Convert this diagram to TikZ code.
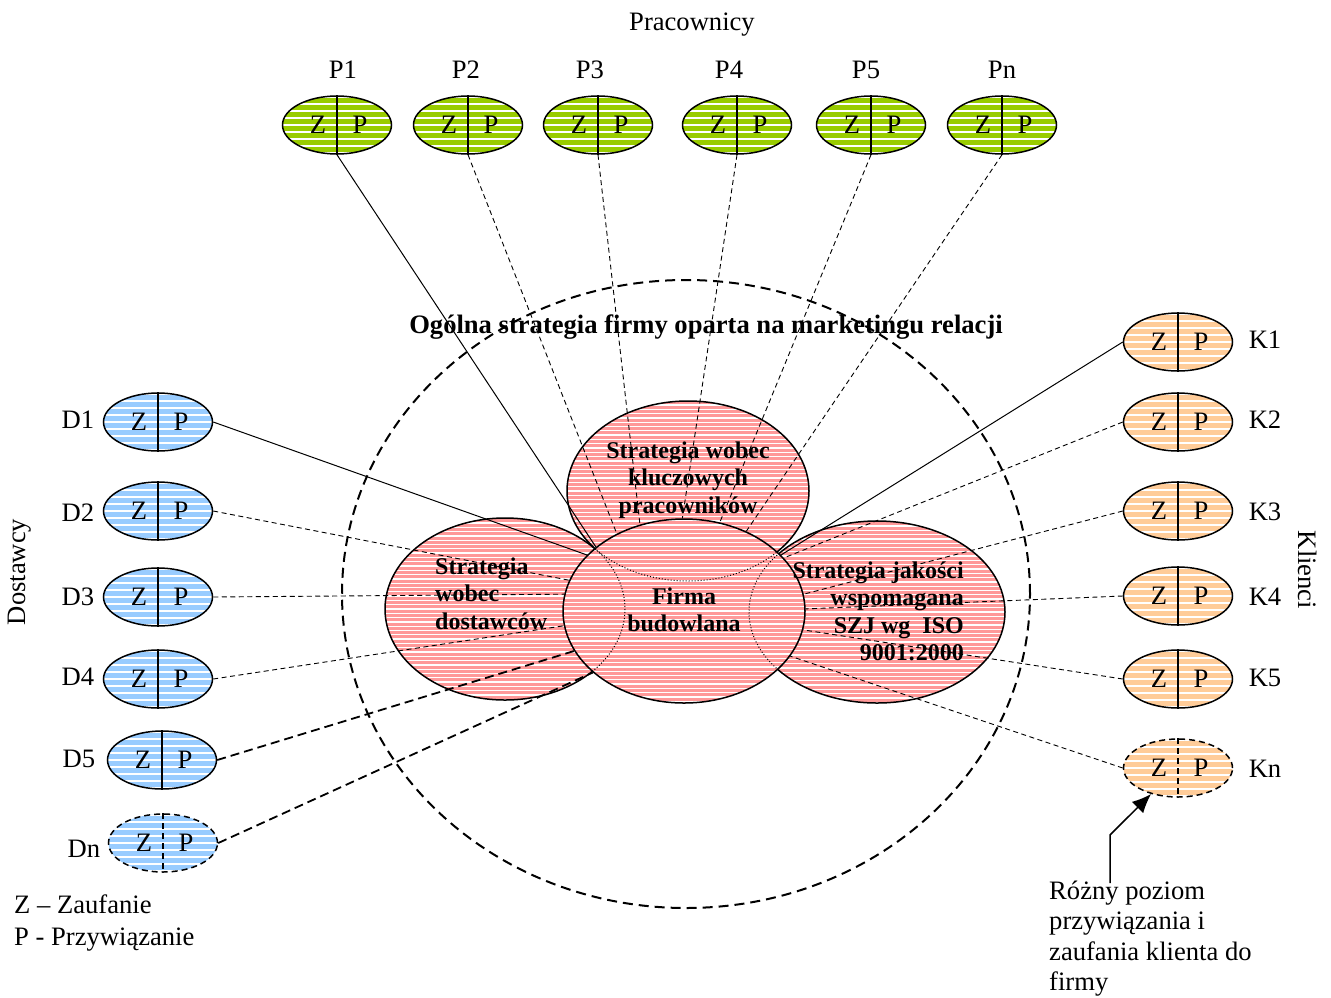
\documentclass[tikz,border=0pt]{standalone}
\usepackage{fontspec}
\setmainfont{Liberation Serif}
\usetikzlibrary{shapes.geometric,arrows.meta}

\definecolor{pgreen}{HTML}{99CC00}
\definecolor{dblue}{HTML}{99CCFF}
\definecolor{korange}{HTML}{FFCC99}
\definecolor{fpink}{HTML}{FF9999}

\tikzset{
  zpell/.style={ellipse, draw, line width=1.5pt, inner sep=0pt, minimum width=109pt, minimum height=58pt},
  bigell/.style={ellipse, draw, line width=1.5pt, inner sep=0pt},
  stripe/.style={fill=white},
  lbl/.style={inner sep=0pt},
  ctxt/.style={inner sep=0pt, font=\bfseries\fontsize{24}{27.5}\selectfont},
  conn/.style={line width=1pt},
  dconn/.style={line width=0.9pt, dash pattern=on 5pt off 3.5pt},
  tconn/.style={line width=1.8pt, dash pattern=on 9pt off 5pt},
  dzp/.style={dash pattern=on 6pt off 4pt}
}

% small striped Z|P ellipse
\newcommand{\zpunit}[5]{%
  \fill[#4] (#2,#3) ellipse (54.5 and 29);
  \begin{scope}
    \clip (#2,#3) ellipse (54.5 and 29);
    \foreach \k in {-4,...,4} {\fill[stripe] (#2-60,{#3+\k*7-0.85}) rectangle ++(120,1.7);}
  \end{scope}
  \node[zpell, #5] (#1) at (#2,#3) {};
  \draw[line width=1.5pt, #5] (#1.north) -- (#1.south);
  \node[lbl] (#1z) at ([xshift=-19pt]#1.center) {Z};
  \node[lbl] (#1p) at ([xshift=23pt]#1.center) {P};
}

% big striped pink ellipse
\newcommand{\bigunit}[5]{%
  \fill[fpink] (#2,#3) ellipse (#4 and #5);
  \begin{scope}
    \clip (#2,#3) ellipse (#4 and #5);
    \foreach \k in {-22,...,22} {\fill[stripe] (#2-140,{#3+\k*4.3-0.65}) rectangle ++(280,1.3);}
  \end{scope}
  \node[bigell, minimum width=2*#4, minimum height=2*#5] (#1) at (#2,#3) {};
}

\begin{document}
\begin{tikzpicture}[x=1pt, y=-1pt, font=\fontsize{26.6}{31}\selectfont]
\useasboundingbox (0,0) rectangle (1331,997);

% outer dashed boundary
\node[ellipse, draw, line width=2pt, dash pattern=on 10pt off 6pt, minimum width=688pt, minimum height=628pt, inner sep=0pt] (outer) at (686,594) {};

% strategy ellipses
\bigunit{sdost}{505}{609}{120}{91}
\bigunit{sjak}{877}{612}{128}{91}
\bigunit{sprac}{688}{491}{121}{90}
\bigunit{firma}{684}{611}{121}{92}
\begin{scope}
  \clip (firma.center) ellipse (121 and 92);
  \draw[dotted, line width=1pt] (sdost.center) ellipse (120 and 91);
  \draw[dotted, line width=1pt] (sjak.center) ellipse (128 and 91);
  \draw[dotted, line width=1pt] (sprac.center) ellipse (121 and 90);
\end{scope}

% texts in ellipses
\node[ctxt, anchor=base] (tprac) at (688,458) {\begin{tabular}[t]{@{}c@{}}Strategia wobec\\kluczowych\\pracowników\end{tabular}};
\node[ctxt, anchor=base west] (tdost) at (435,574) {\begin{tabular}[t]{@{}l@{}}Strategia\\wobec\\dostawców\end{tabular}};
\node[ctxt, anchor=base] (tfirma) at (684,604) {\begin{tabular}[t]{@{}c@{}}Firma\\budowlana\end{tabular}};
\node[ctxt, anchor=base east] (tjak) at (964,578) {\begin{tabular}[t]{@{}r@{}}Strategia jakości\\wspomagana\\SZJ wg~~ISO\\9001:2000\end{tabular}};

% title
\node[inner sep=0pt, anchor=base, font=\bfseries\fontsize{26.6}{31}\selectfont] (title) at (706,333) {Ogólna strategia firmy oparta na marketingu relacji};

% employees
\node[lbl, anchor=base] (prac) at (692,30) {Pracownicy};
\zpunit{p1}{337}{125}{pgreen}{}
\zpunit{p2}{468}{125}{pgreen}{}
\zpunit{p3}{598}{125}{pgreen}{}
\zpunit{p4}{737}{125}{pgreen}{}
\zpunit{p5}{871}{125}{pgreen}{}
\zpunit{pn}{1002}{125}{pgreen}{}
\node[lbl, anchor=base] (p1l) at (343,78) {P1};
\node[lbl, anchor=base] (p2l) at (466,78) {P2};
\node[lbl, anchor=base] (p3l) at (590,78) {P3};
\node[lbl, anchor=base] (p4l) at (729,78) {P4};
\node[lbl, anchor=base] (p5l) at (866,78) {P5};
\node[lbl, anchor=base] (pnl) at (1002,78) {Pn};

% suppliers
\node[lbl, rotate=90] (dostawcy) at (20,572) {Dostawcy};
\zpunit{d1}{158}{422}{dblue}{}
\zpunit{d2}{158}{511}{dblue}{}
\zpunit{d3}{158}{597}{dblue}{}
\zpunit{d4}{158}{679}{dblue}{}
\zpunit{d5}{162}{760}{dblue}{}
\zpunit{dn}{163}{843}{dblue}{dzp}
\node[lbl, anchor=base] (d1l) at (78,428) {D1};
\node[lbl, anchor=base] (d2l) at (78,521) {D2};
\node[lbl, anchor=base] (d3l) at (78,605) {D3};
\node[lbl, anchor=base] (d4l) at (78,685) {D4};
\node[lbl, anchor=base] (d5l) at (79,767) {D5};
\node[lbl, anchor=base] (dnl) at (84,857) {Dn};

% clients
\node[lbl, rotate=-90] (klienci) at (1308,570) {Klienci};
\zpunit{k1}{1178}{342}{korange}{}
\zpunit{k2}{1178}{422}{korange}{}
\zpunit{k3}{1178}{511}{korange}{}
\zpunit{k4}{1178}{596}{korange}{}
\zpunit{k5}{1178}{679}{korange}{}
\zpunit{kn}{1178}{768}{korange}{dzp}
\node[lbl, anchor=base] (k1l) at (1265,348) {K1};
\node[lbl, anchor=base] (k2l) at (1265,428) {K2};
\node[lbl, anchor=base] (k3l) at (1265,520) {K3};
\node[lbl, anchor=base] (k4l) at (1265,605) {K4};
\node[lbl, anchor=base] (k5l) at (1265,686) {K5};
\node[lbl, anchor=base] (knl) at (1265,777) {Kn};

% connectors: employees
\draw[conn] (p1.south) -- (firma.144);
\draw[dconn] (p2.south) -- (firma.131);
\draw[dconn] (p3.south) -- (firma.117);
\draw[dconn] (p4.south) -- (firma.91);
\draw[dconn] (p5.south) -- (firma.68);
\draw[dconn] (pn.south) -- (firma.52);

% connectors: suppliers
\draw[conn] (d1.east) -- (firma.150);
\draw[dconn] (d2.east) -- (firma.165);
\draw[dconn] (d3.east) -- (firma.172);
\draw[dconn] (d4.east) -- (firma.187);
\draw[tconn] (d5.east) -- (firma.200);
\draw[tconn] (dn.east) -- (firma.214);

% connectors: clients
\draw[conn] (k1.west) -- (firma.30);
\draw[dconn] (k2.west) -- (firma.28);
\draw[dconn] (k3.west) -- (firma.8);
\draw[dconn] (k4.west) -- (firma.1);
\draw[dconn] (k5.west) -- (firma.-9);
\draw[dconn] (kn.west) -- (firma.-23);

% legend
\node[inner sep=0pt, anchor=base west, font=\fontsize{26.6}{32}\selectfont] (legend) at (14,913) {\begin{tabular}[t]{@{}l@{}}Z – Zaufanie\\P - Przywiązanie\end{tabular}};

% note with arrow
\node[inner sep=0pt, anchor=base west, font=\fontsize{26.6}{30.5}\selectfont] (note) at (1049,899) {\begin{tabular}[t]{@{}l@{}}Różny poziom\\przywiązania i\\zaufania klienta do\\firmy\end{tabular}};
\coordinate (arrfoot) at (1110,883);
\coordinate (arrbend) at (1110,835);
\draw[line width=1.5pt, -{Latex[length=19pt,width=16pt]}] (arrfoot) -- (arrbend) -- (kn.224);

\end{tikzpicture}
\end{document}
